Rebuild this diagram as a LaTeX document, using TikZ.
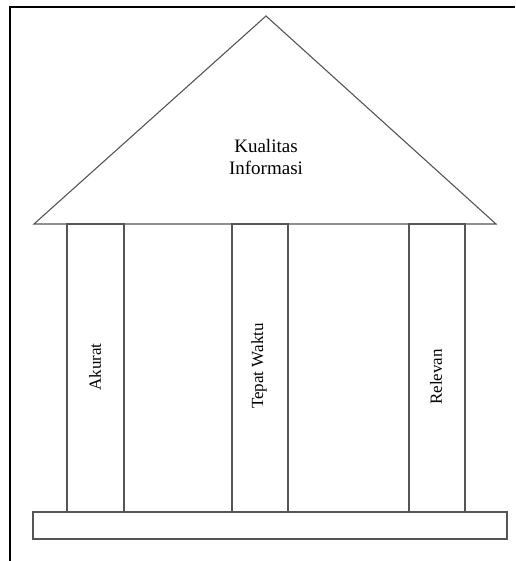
\documentclass[tikz,border=0pt]{standalone}
\usepackage{fontspec}
\setmainfont{Liberation Serif}
\usepackage{tikz}

\definecolor{linegray}{HTML}{555555}

\begin{document}
\begin{tikzpicture}[x=1pt,y=-1pt]
                \useasboundingbox (0,0) rectangle (515,561);
                \draw[line width=1.6pt] (10,561) -- (10,7) -- (515,7);
                \draw[linegray,line width=1.1pt] (34,224) -- (266,16) -- (496,224) -- cycle;
                \draw[linegray,line width=1.1pt] (67,224) rectangle (124,512);
                \draw[linegray,line width=1.1pt] (232,224) rectangle (288,512);
                \draw[linegray,line width=1.1pt] (409,224) rectangle (465,512);
                \draw[linegray,line width=1.1pt] (33,512) rectangle (507,539);
                \node[font=\fontsize{19}{22}\selectfont,align=center] (judul) at (266,157) {Kualitas\\Informasi};
                \node[font=\fontsize{17}{21}\selectfont,rotate=90] (akurat) at (95,367) {Akurat};
                \node[font=\fontsize{17}{21}\selectfont,rotate=90] (tepat) at (259,366) {Tepat Waktu};
                \node[font=\fontsize{17}{21}\selectfont,rotate=90] (relevan) at (436,377) {Relevan};
            \end{tikzpicture}
\end{document}
